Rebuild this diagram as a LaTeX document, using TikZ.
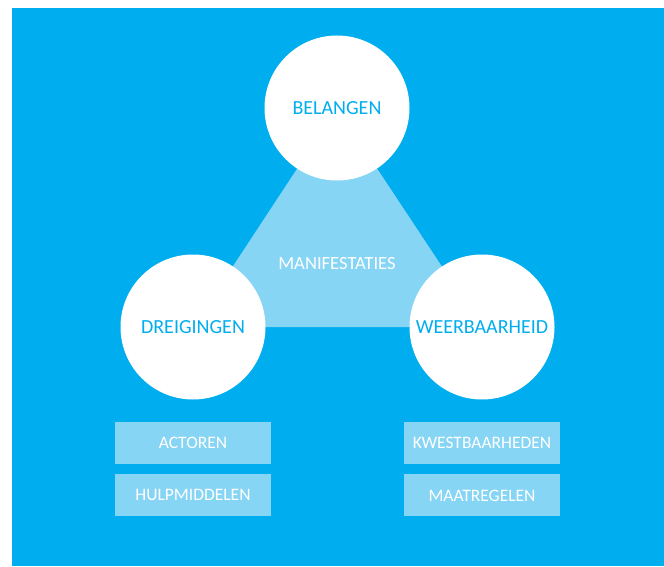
\documentclass[tikz,border=0pt]{standalone}
\usepackage{fontspec}
\setmainfont{Carlito}
\usetikzlibrary{positioning}
\definecolor{rijksblauw}{RGB}{0,174,239}
\definecolor{lichtblauw}{RGB}{135,213,245}

\begin{document}
\begin{tikzpicture}[
  x=1pt, y=-1pt,
  node distance=10pt,
  pijler/.style={circle, fill=white, minimum size=145pt, inner sep=0pt, text=rijksblauw, font=\fontsize{20}{24}\selectfont},
  factor/.style={fill=lichtblauw, minimum width=156pt, minimum height=42pt, inner sep=0pt, text=white, font=\fontsize{17.5}{21}\selectfont}] % 1pt per pixel of the reference

  \useasboundingbox (0,0) rectangle (664,567);
  \fill[rijksblauw] (12,8) rectangle (664,566);

  \coordinate (pb) at (337,108);
  \coordinate (pd) at (193,327);
  \coordinate (pw) at (482,327);

  \fill[lichtblauw] (pb) -- (pd) -- (pw) -- cycle;
  \node[text=white, font=\fontsize{18.6}{22}\selectfont] (manif) at (337,264) {MANIFESTATIES};

  \node[pijler] (belangen) at (pb) {BELANGEN};
  \node[pijler] (dreigingen) at (pd) {DREIGINGEN};
  \node[pijler] (weerbaarheid) at (pw) {WEERBAARHEID};

  \node[factor] (actoren) at (193,443) {ACTOREN};
  \node[factor, below=of actoren] (hulpmiddelen) {HULPMIDDELEN};
  \node[factor] (kwetsbaarheden) at (482,443) {KWESTBAARHEDEN};
  \node[factor, below=of kwetsbaarheden] (maatregelen) {MAATREGELEN};
\end{tikzpicture}
\end{document}
